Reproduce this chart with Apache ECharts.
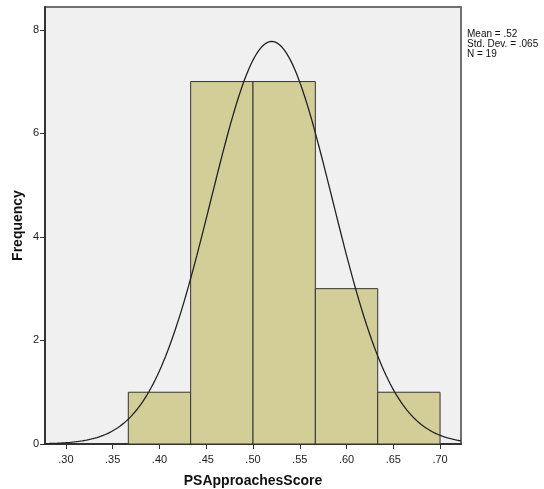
<!DOCTYPE html>
<html>
<head>
<meta charset="utf-8">
<script src="https://cdn.jsdelivr.net/npm/echarts@6/dist/echarts.min.js"></script>
<style>
  html, body { margin: 0; padding: 0; background: #ffffff; }
  #chart { width: 544px; height: 489px; }
</style>
</head>
<body>
<div id="chart"></div>
<script>
// Histogram bins: lower edge of each bin, bin width and counts
const binStarts = [0.36667, 0.43333, 0.50000, 0.56667, 0.63333];
const binWidth = 0.066667;
const counts = [1, 7, 7, 3, 1];

// Summary statistics shown beside the plot
const mean = 0.52;
const stdDev = 0.065;
const n = 19;

// Axis ticks
const xTicks = [0.30, 0.35, 0.40, 0.45, 0.50, 0.55, 0.60, 0.65, 0.70];
const yTicks = [0, 2, 4, 6, 8];

const xMin = 0.2776, xMax = 0.7224;
const yMax = 8.44;

// Fitted normal curve scaled to the histogram (N * bin width * density)
const curve = [];
const steps = 200;
for (let i = 0; i <= steps; i++) {
  const x = xMin + (xMax - xMin) * i / steps;
  const z = (x - mean) / stdDev;
  const y = n * binWidth * Math.exp(-0.5 * z * z) / (stdDev * Math.sqrt(2 * Math.PI));
  curve.push([x, y]);
}

const histData = binStarts.map((s, i) => [s, s + binWidth, counts[i]]);

const fmtX = v => v.toFixed(2).replace(/^0/, '');

const chart = echarts.init(document.getElementById('chart'), null, { renderer: 'canvas' });
chart.setOption({
  animation: false,
  backgroundColor: '#ffffff',
  textStyle: { fontFamily: 'Liberation Sans, Arial, sans-serif' },
  grid: {
    left: 45, right: 83, top: 7, bottom: 45,
    outerBoundsMode: 'none',
    containLabel: false,
    show: true,
    backgroundColor: '#f0f0f0',
    borderColor: '#707070',
    borderWidth: 2
  },
  xAxis: {
    type: 'value',
    min: xMin, max: xMax,
    name: 'PSApproachesScore',
    nameLocation: 'middle',
    nameMoveOverlap: false,
    nameGap: 30,
    nameTextStyle: { fontSize: 14, fontWeight: 'bold', color: '#111' },
    axisLine: { show: true, onZero: false, lineStyle: { color: '#333', width: 2 } },
    axisTick: { show: true, length: 5, customValues: xTicks, lineStyle: { color: '#333' } },
    axisLabel: { customValues: xTicks, formatter: fmtX, color: '#222', fontSize: 11, margin: 10 },
    splitLine: { show: false }
  },
  yAxis: {
    type: 'value',
    min: 0, max: yMax,
    name: 'Frequency',
    nameLocation: 'middle',
    nameMoveOverlap: false,
    nameGap: 20,
    nameTextStyle: { fontSize: 14, fontWeight: 'bold', color: '#111' },
    axisLine: { show: true, lineStyle: { color: '#333', width: 2 } },
    axisTick: { show: true, length: 5, customValues: yTicks, lineStyle: { color: '#333' } },
    axisLabel: { customValues: yTicks, color: '#222', fontSize: 11, margin: 6 },
    splitLine: { show: false }
  },
  series: [
    {
      type: 'custom',
      data: histData,
      renderItem: function (params, api) {
        const p0 = api.coord([api.value(0), api.value(2)]);
        const p1 = api.coord([api.value(1), 0]);
        return {
          type: 'rect',
          shape: { x: p0[0], y: p0[1], width: p1[0] - p0[0], height: p1[1] - p0[1] },
          style: { fill: '#d3ce97', stroke: '#333333', lineWidth: 1 }
        };
      },
      z: 2
    },
    {
      type: 'line',
      data: curve,
      showSymbol: false,
      smooth: false,
      lineStyle: { color: '#222', width: 1.3 },
      clip: true,
      z: 3
    }
  ],
  graphic: [
    {
      type: 'text',
      left: 467, top: 29,
      style: {
        text: 'Mean = .52\nStd. Dev. = .065\nN = 19',
        font: '10px Liberation Sans, Arial, sans-serif',
        fill: '#111',
        lineHeight: 10
      }
    }
  ]
});
</script>
</body>
</html>
